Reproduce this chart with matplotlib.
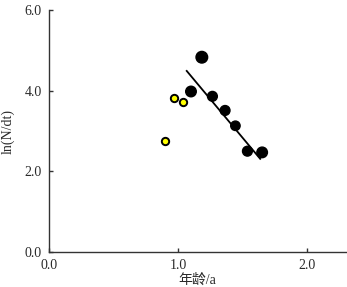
import matplotlib
matplotlib.use('Agg')
import matplotlib.pyplot as plt

plt.rcParams['font.family'] = ['Liberation Serif', 'Noto Sans CJK SC']

# black points (fitted group)
age_black = [1.10, 1.184, 1.266, 1.364, 1.444, 1.537, 1.651]
lnN_black = [3.98, 4.83, 3.86, 3.51, 3.13, 2.50, 2.47]
size_black = [58, 70, 50, 50, 46, 50, 58]

# yellow points
age_yel = [0.897, 0.969, 1.039]
lnN_yel = [2.74, 3.81, 3.73]

# regression line end points
fit_x = [1.067, 1.636]
fit_y = [4.49, 2.31]

txt = '#2a2a2a'

fig = plt.figure(figsize=(3.47, 2.87), dpi=100)
ax = fig.add_axes([0.141, 0.122, 0.856, 0.843])

ax.plot(fit_x, fit_y, color='black', lw=1.3, zorder=2)
ax.scatter(age_black, lnN_black, s=size_black, color='black', zorder=3)
ax.scatter(age_yel, lnN_yel, s=28, color='#ffff00', edgecolors='black', linewidths=1.4, zorder=3)

ax.set_xlim(0, 2.30)
ax.set_ylim(0, 6.0)
ax.set_xticks([0, 1.0, 2.0])
ax.set_yticks([0, 2.0, 4.0, 6.0])
ax.set_xticklabels(['0.0', '1.0', '2.0'])
ax.set_yticklabels(['0.0', '2.0', '4.0', '6.0'])
ax.tick_params(direction='in', length=3, width=1, labelsize=10, pad=5,
               colors='#333333', labelcolor=txt)
for s in ['top', 'right']:
    ax.spines[s].set_visible(False)
for s in ['left', 'bottom']:
    ax.spines[s].set_linewidth(1.0)
    ax.spines[s].set_color('#333333')

ax.set_xlabel('年龄/a', fontsize=10, labelpad=1, color=txt)
ax.set_ylabel('ln(N/dt)', fontsize=10, labelpad=7, color=txt)

fig.savefig('out.png', dpi=100)
